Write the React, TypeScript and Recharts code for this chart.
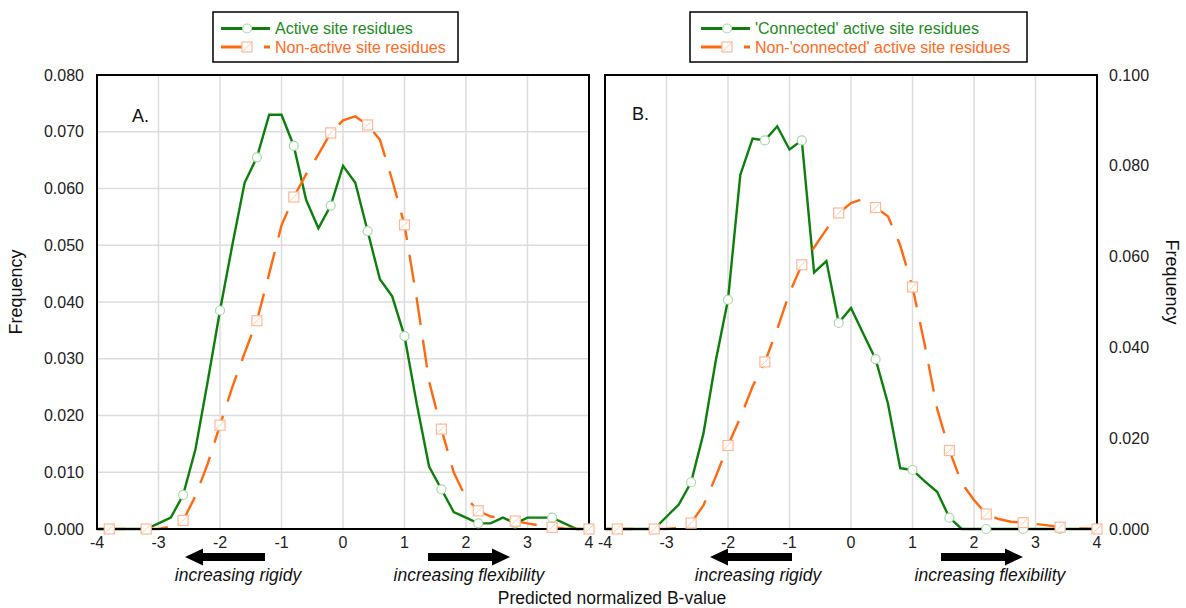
import React from 'react';
import { LineChart, Line, XAxis, YAxis, CartesianGrid, ReferenceArea } from 'recharts';

const FONT = '"Liberation Sans", Arial, Helvetica, sans-serif';
const GREEN = '#0c7f0c';
const ORANGE = '#ff6a10';
const GREEN_TEXT = '#1b8a1b';
const ORANGE_TEXT = '#ff6a1c';

// Predicted normalized B-value (bin centres)
const X_VALUES = [
  -4, -3.8, -3.6, -3.4, -3.2, -3, -2.8, -2.6, -2.4, -2.2, -2, -1.8, -1.6, -1.4, -1.2, -1, -0.8, -0.6, -0.4, -0.2,
  0, 0.2, 0.4, 0.6, 0.8, 1, 1.2, 1.4, 1.6, 1.8, 2, 2.2, 2.4, 2.6, 2.8, 3, 3.2, 3.4, 3.6, 3.8, 4,
];

// Panel A
const ACTIVE_SITE = [
  0, 0, 0, 0, 0, 0.001, 0.002, 0.006, 0.014, 0.026, 0.0385, 0.05, 0.061, 0.0655, 0.073, 0.073, 0.0675, 0.058, 0.053, 0.057,
  0.064, 0.061, 0.0525, 0.044, 0.041, 0.034, 0.022, 0.011, 0.007, 0.003, 0.002, 0.001, 0.001, 0.002, 0.001, 0.002, 0.002, 0.002, 0.001, 0, 0,
];
const NON_ACTIVE_SITE = [
  0, 0, 0, 0, 0, 0, 0.0004, 0.0015, 0.0058, 0.0115, 0.0183, 0.025, 0.031, 0.0367, 0.045, 0.0535, 0.0585, 0.0625, 0.066, 0.0698,
  0.072, 0.0727, 0.0712, 0.0686, 0.0615, 0.0536, 0.0405, 0.026, 0.0176, 0.01, 0.0055, 0.0032, 0.0022, 0.0019, 0.0014, 0.001, 0.0006, 0.0003, 0.0001, 0, 0,
];

// Panel B
const CONNECTED = [
  0, 0, 0, 0, 0, 0.0027, 0.0054, 0.0103, 0.021, 0.037, 0.0505, 0.078, 0.086, 0.0856, 0.0887, 0.0836, 0.0856, 0.0565, 0.059, 0.0454,
  0.0487, 0.043, 0.0374, 0.0277, 0.0134, 0.013, 0.0105, 0.0082, 0.0025, 0, 0, 0, 0, 0, 0, 0, 0, 0, 0, 0, 0,
];
const NON_CONNECTED = [
  0, 0, 0, 0, 0, 0, 0.0003, 0.0013, 0.0052, 0.0115, 0.0184, 0.0245, 0.0314, 0.0368, 0.044, 0.052, 0.0582, 0.062, 0.066, 0.0696,
  0.0718, 0.0727, 0.0708, 0.0689, 0.0625, 0.0533, 0.0405, 0.0265, 0.0173, 0.0101, 0.0064, 0.0033, 0.0022, 0.0016, 0.0014, 0.0011, 0.0008, 0.0004, 0.0002, 0.0001, 0,
];

const X_TICKS = [-4, -3, -2, -1, 0, 1, 2, 3, 4];
const LEFT_Y_TICKS = [0, 0.01, 0.02, 0.03, 0.04, 0.05, 0.06, 0.07, 0.08];
const RIGHT_Y_TICKS = [0, 0.02, 0.04, 0.06, 0.08, 0.1];

const leftData = X_VALUES.map((x, i) => ({ x, a: ACTIVE_SITE[i], b: NON_ACTIVE_SITE[i] }));
const rightData = X_VALUES.map((x, i) => ({ x, a: CONNECTED[i], b: NON_CONNECTED[i] }));

const GreenDot = (props: any) => {
  const { cx, cy, index } = props;
  if (index % 3 !== 1 || cx == null || cy == null) return <g key={`g${index}`} />;
  return <circle key={`g${index}`} cx={cx} cy={cy} r={4.5} fill="#fff" stroke="#a9d8a9" strokeWidth={1.2} />;
};

const SquareMark = ({ cx, cy }: { cx: number; cy: number }) => (
  <g>
    <rect x={cx - 5} y={cy - 5} width={10} height={10} fill="#fff" stroke="#ffb896" strokeWidth={1.2} />
    <line x1={cx - 4} y1={cy + 4} x2={cx + 4} y2={cy - 4} stroke="#ffc9ae" strokeWidth={1} />
  </g>
);

const OrangeDot = (props: any) => {
  const { cx, cy, index } = props;
  if (index % 3 !== 1 || cx == null || cy == null) return <g key={`o${index}`} />;
  return <g key={`o${index}`}><SquareMark cx={cx} cy={cy} /></g>;
};

const tickStyle = { fill: '#222', fontSize: 16, fontFamily: FONT };
const fmt = (v: number) => v.toFixed(3);

const Arrow = ({ x1, x2, y }: { x1: number; x2: number; y: number }) => {
  // x2 is tip
  const dir = x2 > x1 ? 1 : -1;
  const hb = x2 - dir * 18;
  const d = `M${x1},${y - 4} L${hb},${y - 4} L${hb},${y - 8.5} L${x2},${y} L${hb},${y + 8.5} L${hb},${y + 4} L${x1},${y + 4} Z`;
  return <path d={d} fill="#000" />;
};

export default function App() {
  return (
    <div style={{ position: 'absolute', left: 0, top: 0, width: 1186, height: 608, background: '#fff', fontFamily: FONT }}>
      <div style={{ position: 'absolute', left: 0, top: 0 }}>
        <LineChart width={600} height={608} data={leftData} margin={{ top: 75, right: 11, left: 0, bottom: 0 }}>
          <CartesianGrid stroke="#dcdcdc" strokeWidth={1.5} />
          <XAxis dataKey="x" type="number" domain={[-4, 4]} ticks={X_TICKS} interval={0} height={79}
            axisLine={{ stroke: '#000', strokeWidth: 2 }} tickLine={false} tick={tickStyle} />
          <YAxis type="number" domain={[0, 0.08]} ticks={LEFT_Y_TICKS} interval={0} width={97} tickFormatter={fmt}
            axisLine={{ stroke: '#000', strokeWidth: 2 }} tickLine={false} tickMargin={7} tick={tickStyle} />
          <ReferenceArea x1={-4} x2={4} y1={0} y2={0.08} fill="none" stroke="#000" strokeWidth={2} fillOpacity={0} />
          <Line type="linear" dataKey="a" stroke={GREEN} strokeWidth={2.4} dot={GreenDot} activeDot={false} isAnimationActive={false} />
          <Line type="linear" dataKey="b" stroke={ORANGE} strokeWidth={2.4} strokeDasharray="28 15" dot={OrangeDot} activeDot={false} isAnimationActive={false} />
        </LineChart>
      </div>
      <div style={{ position: 'absolute', left: 560, top: 0 }}>
        <LineChart width={626} height={608} data={rightData} margin={{ top: 75, right: 0, left: 0, bottom: 0 }}>
          <CartesianGrid stroke="#dcdcdc" strokeWidth={1.5} />
          <XAxis dataKey="x" type="number" domain={[-4, 4]} ticks={X_TICKS} interval={0} height={79}
            axisLine={{ stroke: '#000', strokeWidth: 2 }} tickLine={false} tick={tickStyle} />
          <YAxis type="number" domain={[0, 0.1]} ticks={RIGHT_Y_TICKS} interval={0} width={45} tick={false}
            axisLine={{ stroke: '#000', strokeWidth: 2 }} tickLine={false} />
          <YAxis yAxisId="r" orientation="right" type="number" domain={[0, 0.1]} ticks={RIGHT_Y_TICKS} interval={0} width={89}
            tickFormatter={fmt} axisLine={{ stroke: '#000', strokeWidth: 2 }} tickLine={false} tickMargin={6} tick={tickStyle} />
          <ReferenceArea x1={-4} x2={4} y1={0} y2={0.1} fill="none" stroke="#000" strokeWidth={2} fillOpacity={0} />
          <Line type="linear" dataKey="a" stroke={GREEN} strokeWidth={2.4} dot={GreenDot} activeDot={false} isAnimationActive={false} />
          <Line yAxisId="r" type="linear" dataKey="b" stroke={ORANGE} strokeWidth={2.4} strokeDasharray="28 15" dot={OrangeDot} activeDot={false} isAnimationActive={false} />
        </LineChart>
      </div>
      <svg width={1186} height={608} style={{ position: 'absolute', left: 0, top: 0, pointerEvents: 'none' }} fontFamily={FONT}>
        {/* Legend A */}
        <rect x={213} y={12} width={245} height={50} fill="#fff" stroke="#000" strokeWidth={1.5} />
        <line x1={221} y1={28.5} x2={270} y2={28.5} stroke={GREEN} strokeWidth={3} />
        <circle cx={247} cy={28.5} r={4.5} fill="#fff" stroke="#a9d8a9" strokeWidth={1.2} />
        <text x={275} y={28.5} dy="0.36em" fontSize={16} fill={GREEN_TEXT}>Active site residues</text>
        <line x1={221} y1={47} x2={270} y2={47} stroke={ORANGE} strokeWidth={3} strokeDasharray="28 15" />
        <SquareMark cx={247} cy={47} />
        <text x={275} y={47} dy="0.36em" fontSize={16} fill={ORANGE_TEXT}>Non-active site residues</text>

        {/* Legend B */}
        <rect x={690} y={12} width={337} height={50} fill="#fff" stroke="#000" strokeWidth={1.5} />
        <line x1={701} y1={28.5} x2={750} y2={28.5} stroke={GREEN} strokeWidth={3} />
        <circle cx={727} cy={28.5} r={4.5} fill="#fff" stroke="#a9d8a9" strokeWidth={1.2} />
        <text x={755} y={28.5} dy="0.36em" fontSize={16} fill={GREEN_TEXT}>'Connected' active site residues</text>
        <line x1={701} y1={47} x2={750} y2={47} stroke={ORANGE} strokeWidth={3} strokeDasharray="28 15" />
        <SquareMark cx={727} cy={47} />
        <text x={755} y={47} dy="0.36em" fontSize={16} fill={ORANGE_TEXT}>Non-'connected' active site residues</text>

        {/* Panel labels */}
        <text x={132} y={122} fontSize={18} fill="#111">A.</text>
        <text x={632} y={120} fontSize={18} fill="#111">B.</text>

        {/* Axis titles */}
        <text transform="translate(22,292) rotate(-90)" textAnchor="middle" fontSize={18} fill="#111">Frequency</text>
        <text transform="translate(1166,282) rotate(90)" textAnchor="middle" fontSize={18} fill="#111">Frequency</text>
        <text x={612} y={604} textAnchor="middle" fontSize={17.5} fill="#111">Predicted normalized B-value</text>

        {/* Arrows and annotations */}
        <Arrow x1={265} x2={185} y={557} />
        <Arrow x1={428} x2={510} y={557} />
        <Arrow x1={792} x2={710} y={557} />
        <Arrow x1={941} x2={1023} y={557} />
        <text x={238} y={581} textAnchor="middle" fontSize={17.5} fontStyle="italic" fill="#111">increasing rigidy</text>
        <text x={469} y={581} textAnchor="middle" fontSize={17.5} fontStyle="italic" fill="#111">increasing flexibility</text>
        <text x={758} y={581} textAnchor="middle" fontSize={17.5} fontStyle="italic" fill="#111">increasing rigidy</text>
        <text x={990} y={581} textAnchor="middle" fontSize={17.5} fontStyle="italic" fill="#111">increasing flexibility</text>
      </svg>
    </div>
  );
}
